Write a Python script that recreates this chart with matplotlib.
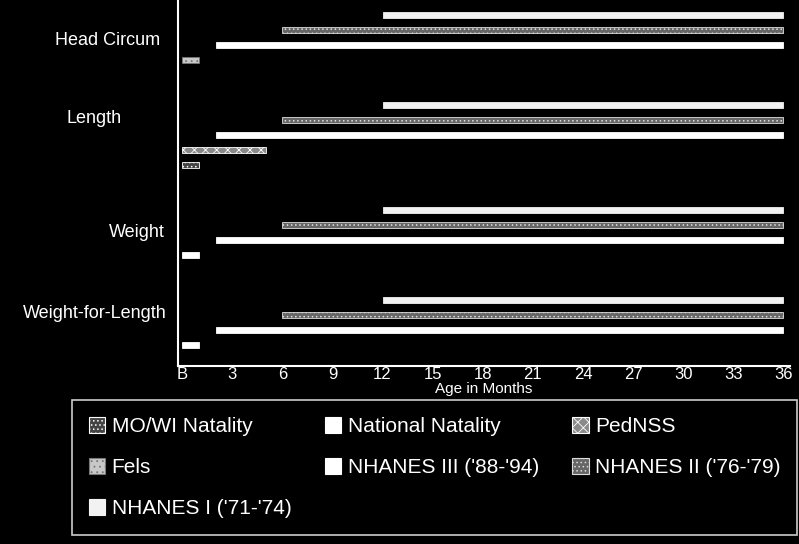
import matplotlib.pyplot as plt
import matplotlib.patches as mpatches
from matplotlib.transforms import blended_transform_factory

plt.rcParams['font.family'] = ['Liberation Sans', 'DejaVu Sans']
plt.rcParams['hatch.color'] = 'white'
plt.rcParams['hatch.linewidth'] = 0.6

# measures, top to bottom
categories = ["Head Circum", "Length", "Weight", "Weight-for-Length"]

# data sources shown in each measure: (source, start month, end month), top bar first
coverage = {
    "Head Circum": [("NHANES I ('71-'74)", 12, 36),
                    ("NHANES II ('76-'79)", 6, 36),
                    ("NHANES III ('88-'94)", 2, 36),
                    ("Fels", 0, 1)],
    "Length": [("NHANES I ('71-'74)", 12, 36),
               ("NHANES II ('76-'79)", 6, 36),
               ("NHANES III ('88-'94)", 2, 36),
               ("PedNSS", 0, 5),
               ("MO/WI Natality", 0, 1)],
    "Weight": [("NHANES I ('71-'74)", 12, 36),
               ("NHANES II ('76-'79)", 6, 36),
               ("NHANES III ('88-'94)", 2, 36),
               ("National Natality", 0, 1)],
    "Weight-for-Length": [("NHANES I ('71-'74)", 12, 36),
                          ("NHANES II ('76-'79)", 6, 36),
                          ("NHANES III ('88-'94)", 2, 36),
                          ("National Natality", 0, 1)],
}

tick_months = [0, 3, 6, 9, 12, 15, 18, 21, 24, 27, 30, 33, 36]
tick_labels = ["B", "3", "6", "9", "12", "15", "18", "21", "24", "27", "30", "33", "36"]

# legend order: filled column by column (3 columns)
legend_order = ["MO/WI Natality", "Fels", "NHANES I ('71-'74)",
                "National Natality", "NHANES III ('88-'94)",
                "PedNSS", "NHANES II ('76-'79)"]

styles = {
    "MO/WI Natality": dict(facecolor="#444444", edgecolor="white", hatch="...."),
    "National Natality": dict(facecolor="white", edgecolor="white"),
    "PedNSS": dict(facecolor="#8a8a8a", edgecolor="white", hatch="xxx"),
    "Fels": dict(facecolor="#c8c8c8", edgecolor="#777777", hatch="..."),
    "NHANES III ('88-'94)": dict(facecolor="white", edgecolor="white"),
    "NHANES II ('76-'79)": dict(facecolor="#666666", edgecolor="#dddddd", hatch="...."),
    "NHANES I ('71-'74)": dict(facecolor="#f2f2f2", edgecolor="#f2f2f2"),
}

# layout (rows of bars, label placement in pixels)
group_first_row = [1, 7, 14, 20]
label_rows = [2.7, 7.9, 15.5, 20.9]
label_right_px = [160, 122, 165, 167]

fig = plt.figure(figsize=(7.99, 5.44), dpi=100, facecolor="black")
ax = fig.add_axes([178 / 799, 1 - 366 / 544, 612 / 799, 366 / 544])
ax.set_facecolor("black")

for cat, first in zip(categories, group_first_row):
    for i, (src, start, end) in enumerate(coverage[cat]):
        ax.barh(first + i, end - start, left=start, height=0.45,
                linewidth=0.6, **styles[src])

ax.set_xlim(-0.25, 36.4)
ax.set_ylim(24.4, 0)
ax.set_yticks([])
ax.set_xticks(tick_months)
ax.set_xticklabels(tick_labels, color="white", fontsize=12)
ax.tick_params(axis="x", length=0, pad=1)
ax.set_xlabel("Age in Months", color="white", fontsize=11, labelpad=0)
for side in ["top", "right"]:
    ax.spines[side].set_visible(False)
for side in ["left", "bottom"]:
    ax.spines[side].set_color("white")
    ax.spines[side].set_linewidth(1.5)

trans = blended_transform_factory(fig.transFigure, ax.transData)
for cat, row, xr in zip(categories, label_rows, label_right_px):
    ax.text(xr / 799, row, cat, transform=trans,
            ha="right", va="center", color="white", fontsize=13)

handles = [mpatches.Patch(label=s, linewidth=0.8, **styles[s]) for s in legend_order]
leg = fig.legend(handles=handles, loc="upper left", ncol=3,
                 bbox_to_anchor=(72 / 799, 1 - 400 / 544),
                 frameon=True, facecolor="black", edgecolor="white",
                 fancybox=False, handlelength=0.8, handleheight=0.8,
                 handletextpad=0.3, labelspacing=1.05, borderpad=0.8,
                 columnspacing=1.6, borderaxespad=0,
                 prop={"size": 15})
leg.get_frame().set_linewidth(1.2)
for t in leg.get_texts():
    t.set_color("white")

fig.savefig("out.png", dpi=100, facecolor="black")
